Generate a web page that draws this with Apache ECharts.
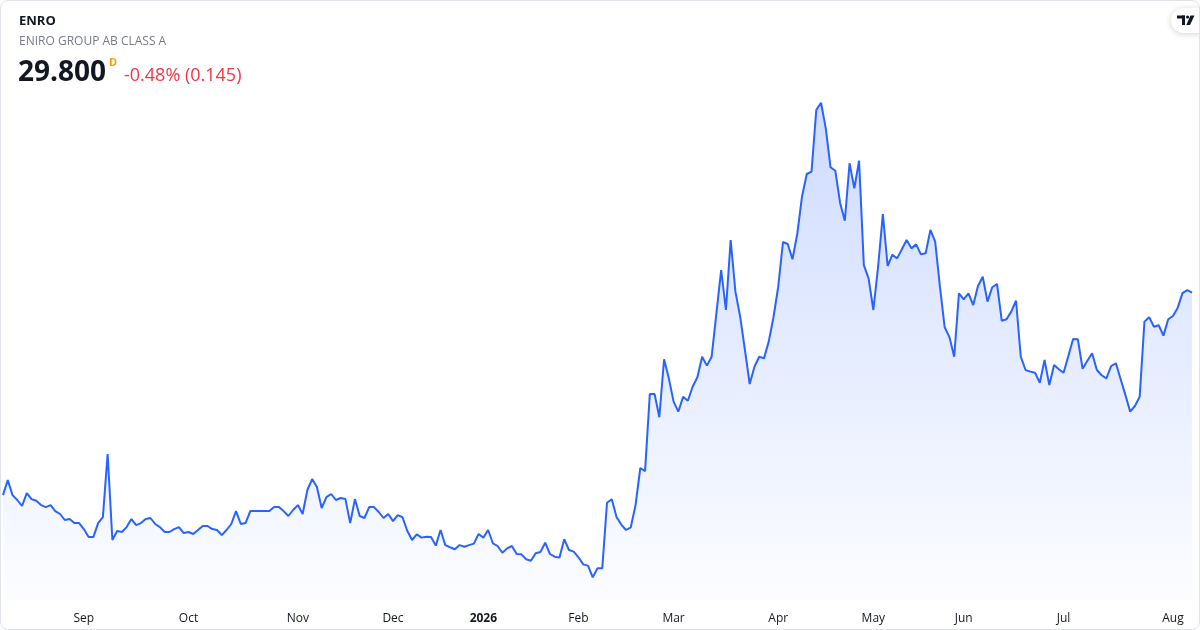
<!DOCTYPE html>
<html>
<head>
<meta charset="utf-8">
<script src="https://cdn.jsdelivr.net/npm/echarts@6/dist/echarts.min.js"></script>
<style>
  html, body { margin: 0; padding: 0; background: #ffffff; }
  #chart { position: absolute; left: 0; top: 0; width: 1200px; height: 630px; }
  #frame { position: absolute; left: 0; top: 0; width: 1200px; height: 630px; box-sizing: border-box;
           border: 1px solid #e0e3eb; border-radius: 8px; pointer-events: none; }
</style>
</head>
<body>
<div id="chart"></div>
<div id="frame"></div>
<script>
// ---- data ----
const symbol = 'ENRO';
const companyName = 'ENIRO GROUP AB CLASS A';
const lastPrice = '29.800';
const changeText = '-0.48% (0.145)';
const startDate = '2025-08-07';
const holidays = ['2025-12-24','2025-12-25','2025-12-26','2025-12-31','2026-01-01','2026-01-06',
                  '2026-04-03','2026-04-06','2026-05-01','2026-05-14','2026-06-19'];
const monthNames = ['Jan','Feb','Mar','Apr','May','Jun','Jul','Aug','Sep','Oct','Nov','Dec'];
const closes = [
  18.67, 19.50, 18.67, 18.40, 18.07, 18.78, 18.45, 18.36, 18.12, 18.01,
  18.12, 17.79, 17.63, 17.30, 17.35, 17.13, 17.13, 16.80, 16.36, 16.36,
  17.13, 17.46, 20.93, 16.20, 16.69, 16.64, 16.91, 17.35, 17.02, 17.13,
  17.35, 17.41, 17.08, 16.91, 16.64, 16.64, 16.80, 16.91, 16.58, 16.64,
  16.53, 16.75, 16.97, 16.97, 16.80, 16.75, 16.47, 16.75, 17.08, 17.79,
  17.08, 17.13, 17.79, 17.79, 17.79, 17.79, 17.79, 18.01, 18.01, 17.79,
  17.52, 17.85, 18.12, 17.63, 18.95, 19.55, 19.11, 17.96, 18.56, 18.73,
  18.40, 18.51, 18.45, 17.13, 18.45, 17.52, 17.41, 18.01, 18.01, 17.74,
  17.41, 17.63, 17.24, 17.57, 17.45, 16.71, 16.20, 16.51, 16.33, 16.38,
  16.36, 15.89, 16.75, 15.92, 15.80, 15.69, 15.92, 15.83, 15.92, 16.00,
  16.53, 16.33, 16.75, 16.02, 15.87, 15.50, 15.74, 15.87, 15.43, 15.41,
  15.14, 15.06, 15.47, 15.54, 16.05, 15.43, 15.28, 15.23, 16.24, 15.65,
  15.56, 15.25, 14.86, 14.79, 14.15, 14.64, 14.64, 18.25, 18.44, 17.46,
  17.05, 16.75, 16.90, 18.12, 20.16, 19.99, 24.23, 24.23, 22.95, 26.14,
  25.09, 23.81, 23.26, 24.08, 23.86, 24.63, 25.15, 26.28, 25.79, 26.28,
  28.67, 31.05, 28.85, 32.70, 29.86, 28.48, 26.65, 24.78, 25.73, 26.28,
  26.19, 27.11, 28.45, 30.13, 32.59, 32.48, 31.64, 33.03, 35.08, 36.33,
  36.46, 39.85, 40.25, 38.84, 36.70, 36.51, 34.75, 33.76, 36.92, 35.54,
  37.06, 31.32, 30.59, 28.85, 31.23, 34.13, 31.27, 31.89, 31.69, 32.19,
  32.70, 32.24, 32.46, 31.91, 31.97, 33.25, 32.61, 30.13, 27.90, 27.36,
  26.28, 29.77, 29.44, 29.77, 29.12, 30.17, 30.68, 29.31, 30.10, 30.28,
  28.26, 28.34, 28.76, 29.36, 26.28, 25.55, 25.46, 25.40, 24.85, 26.10,
  24.72, 25.82, 25.59, 25.40, 26.32, 27.25, 27.24, 25.62, 26.06, 26.47,
  25.55, 25.26, 25.09, 25.77, 25.92, 25.04, 24.17, 23.26, 23.57, 24.08,
  28.21, 28.45, 27.93, 28.01, 27.44, 28.34, 28.52, 28.98, 29.78, 29.945, 29.80
];

// ---- trading-day categories (weekdays, minus exchange holidays) ----
function pad(n) { return (n < 10 ? '0' : '') + n; }
const dates = [];
{
  const d = new Date(startDate + 'T12:00:00Z');
  while (dates.length < closes.length) {
    const s = d.getUTCFullYear() + '-' + pad(d.getUTCMonth() + 1) + '-' + pad(d.getUTCDate());
    const wd = d.getUTCDay();
    if (wd !== 0 && wd !== 6 && holidays.indexOf(s) < 0) dates.push(s);
    d.setUTCDate(d.getUTCDate() + 1);
  }
}
function isMonthStart(i) {
  return i > 0 && dates[i].slice(0, 7) !== dates[i - 1].slice(0, 7);
}

const FONT = '"Open Sans", "Noto Sans", sans-serif';
const chart = echarts.init(document.getElementById('chart'), null, { renderer: 'canvas' });

chart.setOption({
  animation: false,
  backgroundColor: '#ffffff',
  grid: { left: 3, right: 8, top: 90, bottom: 30, containLabel: false },
  xAxis: {
    type: 'category',
    data: dates,
    boundaryGap: false,
    axisLine: { show: false },
    axisTick: { show: false },
    splitLine: { show: false },
    axisLabel: {
      interval: function (index) { return isMonthStart(index); },
      margin: 13,
      color: '#131722',
      fontSize: 12,
      fontFamily: FONT,
      formatter: function (value) {
        const m = parseInt(value.slice(5, 7), 10) - 1;
        if (m === 0) return '{yr|' + value.slice(0, 4) + '}';
        return monthNames[m];
      },
      rich: { yr: { fontWeight: 'bold', fontSize: 12, color: '#131722', fontFamily: FONT } }
    }
  },
  yAxis: {
    type: 'value',
    min: 12.90,
    max: 40.95,
    show: false,
    splitLine: { show: false }
  },
  series: [{
    type: 'line',
    data: closes,
    symbol: 'none',
    smooth: false,
    lineStyle: { color: '#2962ff', width: 2 },
    areaStyle: {
      origin: 'start',
      color: new echarts.graphic.LinearGradient(0, 0, 0, 1, [
        { offset: 0, color: 'rgba(41,98,255,0.32)' },
        { offset: 1, color: 'rgba(41,98,255,0.02)' }
      ])
    }
  }],
  graphic: [
    { type: 'text', left: 19, top: 15, style: { text: symbol, font: 'bold 13px ' + FONT, fill: '#131722' } },
    { type: 'text', left: 19, top: 36, style: { text: companyName, font: '12px ' + FONT, fill: '#787b86' } },
    { type: 'text', left: 18, top: 59, style: { text: lastPrice, font: 'bold 28px ' + FONT, fill: '#131722' } },
    { type: 'text', left: 109, top: 57, style: { text: 'D', font: 'bold 11px ' + FONT, fill: '#ff9800' } },
    { type: 'text', left: 124, top: 67, style: { text: changeText, font: '18px ' + FONT, fill: '#f23645' } },
    { type: 'rect', shape: { x: 1171, y: 8, width: 45, height: 25, r: 12.5 },
      style: { fill: '#ffffff', shadowBlur: 6, shadowColor: 'rgba(0,0,0,0.18)', shadowOffsetY: 1 } },
    { type: 'rect', shape: { x: 1177, y: 15.5, width: 8, height: 3 }, style: { fill: '#131722' } },
    { type: 'rect', shape: { x: 1182, y: 15.5, width: 3, height: 9.5 }, style: { fill: '#131722' } },
    { type: 'circle', shape: { cx: 1187.6, cy: 17, r: 1.6 }, style: { fill: '#131722' } },
    { type: 'polygon', shape: { points: [[1190.5, 15.5], [1194.5, 15.5], [1190, 25], [1186.3, 25]] }, style: { fill: '#131722' } }
  ]
});
</script>
</body>
</html>
